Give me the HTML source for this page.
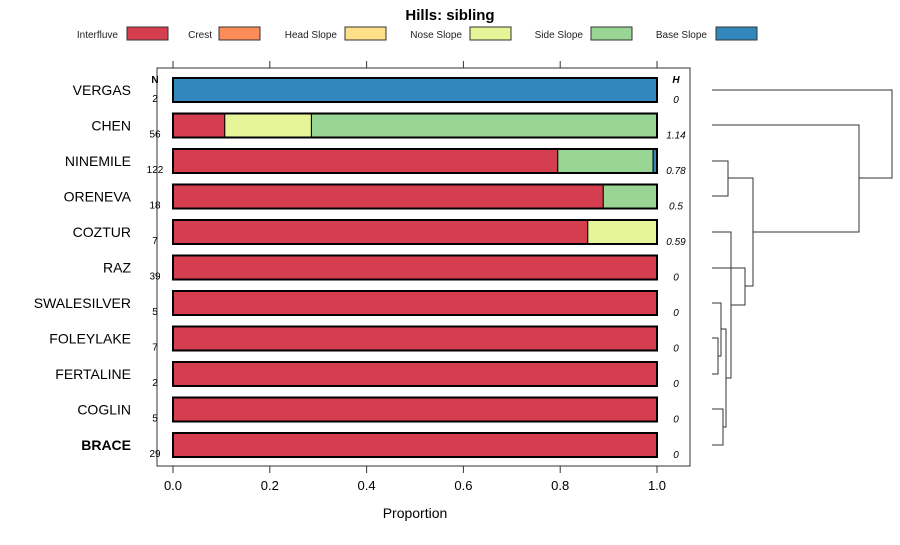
<!DOCTYPE html>
<html><head><meta charset="utf-8"><style>
body{margin:0;background:#fff;font-family:"Liberation Sans",sans-serif}
svg text{font-family:"Liberation Sans",sans-serif}
</style></head><body>
<svg id="c" width="900" height="540" xmlns="http://www.w3.org/2000/svg">
<text x="450" y="20" text-anchor="middle" font-size="15" font-weight="bold">Hills: sibling</text>
<g id="legend"></g>
<rect x="157" y="68" width="533" height="398" fill="none" stroke="#333"/>
<g id="bars"></g><g id="axis"></g><g id="dendro" stroke="#333" fill="none" stroke-width="1"></g>
<text x="415" y="518" text-anchor="middle" font-size="14">Proportion</text>
</svg>
<script>
const classes=["Interfluve","Crest","Head Slope","Nose Slope","Side Slope","Base Slope"];
const colors=["#d53e4f","#fc8d59","#fee08b","#e6f598","#99d594","#3288bd"];
const sites=["VERGAS","CHEN","NINEMILE","ORENEVA","COZTUR","RAZ","SWALESILVER","FOLEYLAKE","FERTALINE","COGLIN","BRACE"];
const counts=[2,56,122,18,7,39,5,7,2,5,29];
const entropy=["0","1.14","0.78","0.5","0.59","0","0","0","0","0","0"];
const interfluve=[0,0.107,0.795,0.889,0.857,1,1,1,1,1,1];
const crest=[0,0,0,0,0,0,0,0,0,0,0];
const head=[0,0,0,0,0,0,0,0,0,0,0];
const nose=[0,0.179,0,0,0.143,0,0,0,0,0,0];
const side=[0,0.714,0.197,0.111,0,0,0,0,0,0,0];
const base=[1,0,0.008,0,0,0,0,0,0,0,0];
const ticks=[0,0.2,0.4,0.6,0.8,1.0];
const NS="http://www.w3.org/2000/svg";
const X=v=>173+v*484, Y=i=>90+i*35.5;
function mk(t,a,p){const e=document.createElementNS(NS,t);for(const k in a)e.setAttribute(k,a[k]);(p||document.getElementById('c')).appendChild(e);return e;}
const lg=document.getElementById('legend');
const textEnd=[118,212,337,462,583,707];
const swX=[127,219,345,470,591,716];
classes.forEach((c,i)=>{const t=mk('text',{x:textEnd[i],y:38,'font-size':10,'text-anchor':'end',fill:'#222'},lg);t.textContent=c;

const r=mk('rect',{x:swX[i],y:27,width:41,height:13,fill:colors[i],stroke:'#333'},lg);
});
const bg=document.getElementById('bars');const series=[interfluve,crest,head,nose,side,base];
sites.forEach((s,i)=>{const y=Y(i);let cum=0;
series.forEach((arr,k)=>{const v=arr[i];if(v>0){const r=mk('rect',{x:X(cum),y:y-12,width:X(cum+v)-X(cum),height:24,fill:colors[k],stroke:'#000','stroke-width':1},bg);
}cum+=v;});
mk('rect',{x:X(0),y:y-12,width:X(1)-X(0),height:24,fill:'none',stroke:'#000','stroke-width':2},bg);
const l=mk('text',{x:131,y:y+5,'text-anchor':'end','font-size':14,'font-weight':i==10?'bold':'normal'},bg);l.textContent=s;

const n=mk('text',{x:155,y:y+12,'text-anchor':'middle','font-size':10},bg);n.textContent=counts[i];

const h=mk('text',{x:676,y:y+13,'text-anchor':'middle','font-size':10,'font-style':'italic'},bg);h.textContent=entropy[i];
});
mk('text',{x:155,y:83,'text-anchor':'middle','font-size':10,'font-weight':'bold'},bg).textContent='N';
mk('text',{x:676,y:83,'text-anchor':'middle','font-size':10,'font-weight':'bold','font-style':'italic'},bg).textContent='H';
const ax=document.getElementById('axis');
ticks.forEach(t=>{mk('line',{x1:X(t),x2:X(t),y1:466,y2:473,stroke:'#333'},ax);mk('line',{x1:X(t),x2:X(t),y1:61,y2:68,stroke:'#333'},ax);
const tt=mk('text',{x:X(t),y:490,'text-anchor':'middle','font-size':13},ax);tt.textContent=t.toFixed(1);
});
const dg=document.getElementById('dendro');
function U(xl,y1,x1,y2,x2,xm){mk('path',{d:`M${x1},${y1}H${xm}V${y2}H${x2}`},dg);}
const L=712;
U(0,161,L,196,L,728);
U(0,338,L,374,L,718);
U(0,303,L,356,718,721);
U(0,409,L,445,L,723);
U(0,329,721,427,723,726);
U(0,232,L,378,726,731);
U(0,268,L,305,731,745);
U(0,178,728,286,745,753);
U(0,125,L,232,753,859);
U(0,90,L,178,859,892);
</script>
</body></html>
